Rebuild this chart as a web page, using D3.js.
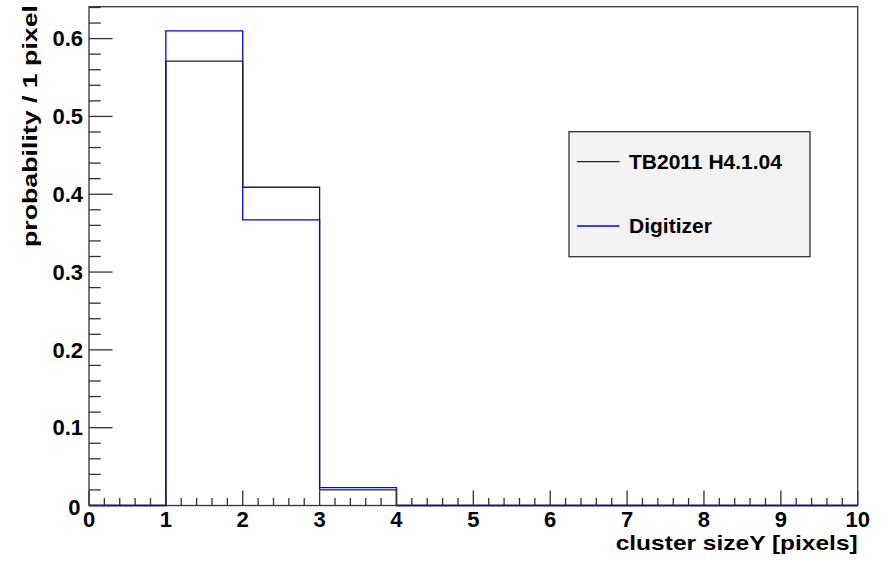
<!DOCTYPE html>
<html>
<head>
<meta charset="utf-8">
<script src="https://cdn.jsdelivr.net/npm/d3@7"></script>
<style>
  html, body { margin: 0; padding: 0; background: #fff; }
  svg { display: block; }
  text { font-family: "Liberation Sans", Arial, Helvetica, sans-serif; font-weight: bold; fill: #000; }
</style>
</head>
<body>
<svg id="chart" width="890" height="564"></svg>
<script>
// ---- data ----
const binLow = [0, 1, 2, 3, 4, 5, 6, 7, 8, 9];
const tb2011 = [0, 0.571, 0.409, 0.020, 0, 0, 0, 0, 0, 0];
const digitizer = [0, 0.610, 0.367, 0.023, 0, 0, 0, 0, 0, 0];
const xTicks = [0, 1, 2, 3, 4, 5, 6, 7, 8, 9, 10];
const yTicks = [0, 0.1, 0.2, 0.3, 0.4, 0.5, 0.6];
const seriesNames = ["TB2011 H4.1.04", "Digitizer"];
const xTitle = "cluster sizeY [pixels]";
const yTitle = "probability / 1 pixel";

// ---- layout ----
const svg = d3.select("#chart");
const L = 89, R = 857.7, T = 6.7, B = 505.5;
const x = d3.scaleLinear().domain([0, 10]).range([L, R]);
const y = d3.scaleLinear().domain([0, 0.641]).range([B, T]);
const axisColor = "#333";

// frame
svg.append("rect").attr("x", L).attr("y", T).attr("width", R - L).attr("height", B - T)
  .attr("fill", "none").attr("stroke", axisColor).attr("stroke-width", 1.3);

// histograms (blue first, black on top)
function stepPts(vals) {
  const pts = binLow.map((b, i) => [b, vals[i]]);
  pts.push([binLow[binLow.length - 1] + 1, vals[vals.length - 1]]);
  return pts;
}
const line = d3.line().x(d => x(d[0])).y(d => y(d[1])).curve(d3.curveStepAfter);
svg.append("path").attr("d", line(stepPts(digitizer))).attr("fill", "none")
  .attr("stroke", "#0000ff").attr("stroke-width", 1.3);
svg.append("path").attr("d", line(stepPts(tb2011))).attr("fill", "none")
  .attr("stroke", "#222").attr("stroke-width", 1.3);

// x axis
const xMinor = d3.range(0, 50).map(i => i * 0.2).filter(v => Math.abs(v - Math.round(v)) > 1e-6);
const xAxis = svg.append("g");
xAxis.selectAll("line.maj").data(xTicks).join("line")
  .attr("x1", d => x(d)).attr("x2", d => x(d)).attr("y1", B).attr("y2", B - 15)
  .attr("stroke", axisColor).attr("stroke-width", 1.3);
xAxis.selectAll("line.min").data(xMinor).join("line")
  .attr("x1", d => x(d)).attr("x2", d => x(d)).attr("y1", B).attr("y2", B - 7.5)
  .attr("stroke", axisColor).attr("stroke-width", 1.3);
xAxis.selectAll("text").data(xTicks).join("text")
  .attr("x", d => x(d)).attr("y", 527).attr("text-anchor", "middle")
  .attr("font-size", 22).text(d => d);

// y axis
const yMinor = d3.range(0, 33).map(i => i * 0.02).filter(v => Math.abs(v * 10 - Math.round(v * 10)) > 1e-6 && v <= 0.641);
const yAxis = svg.append("g");
yAxis.selectAll("line.maj").data(yTicks).join("line")
  .attr("x1", L).attr("x2", L + 23.5).attr("y1", d => y(d)).attr("y2", d => y(d))
  .attr("stroke", axisColor).attr("stroke-width", 1.3);
yAxis.selectAll("line.min").data(yMinor).join("line")
  .attr("x1", L).attr("x2", L + 11.7).attr("y1", d => y(d)).attr("y2", d => y(d))
  .attr("stroke", axisColor).attr("stroke-width", 1.3);
yAxis.selectAll("text").data(yTicks).join("text")
  .attr("x", d => d === 0 ? 80.5 : 83).attr("y", d => d === 0 ? y(d) + 9 : y(d) + 7.8)
  .attr("text-anchor", "end").attr("font-size", 22)
  .text(d => d === 0 ? "0" : d3.format(".1f")(d));

// axis titles
svg.append("text").attr("x", R).attr("y", 550).attr("text-anchor", "end")
  .attr("font-size", 20.5).attr("textLength", 242).attr("lengthAdjust", "spacingAndGlyphs")
  .text(xTitle);
svg.append("text").attr("transform", `translate(37,5) rotate(-90)`).attr("text-anchor", "end")
  .attr("font-size", 21).attr("textLength", 242).attr("lengthAdjust", "spacingAndGlyphs")
  .text(yTitle);

// legend
const lg = svg.append("g");
lg.append("rect").attr("x", 569).attr("y", 131.7).attr("width", 241).attr("height", 125)
  .attr("fill", "#f2f2f2").attr("stroke", "#333").attr("stroke-width", 1.3);
const legendColors = ["#222", "#0000ff"];
const legendY = [161.7, 226];
seriesNames.forEach((name, i) => {
  lg.append("line").attr("x1", 577).attr("x2", 619.5).attr("y1", legendY[i]).attr("y2", legendY[i])
    .attr("stroke", legendColors[i]).attr("stroke-width", 1.3);
  lg.append("text").attr("x", 629).attr("y", legendY[i] + 6.8).attr("font-size", 21).text(name);
});
</script>
</body>
</html>
